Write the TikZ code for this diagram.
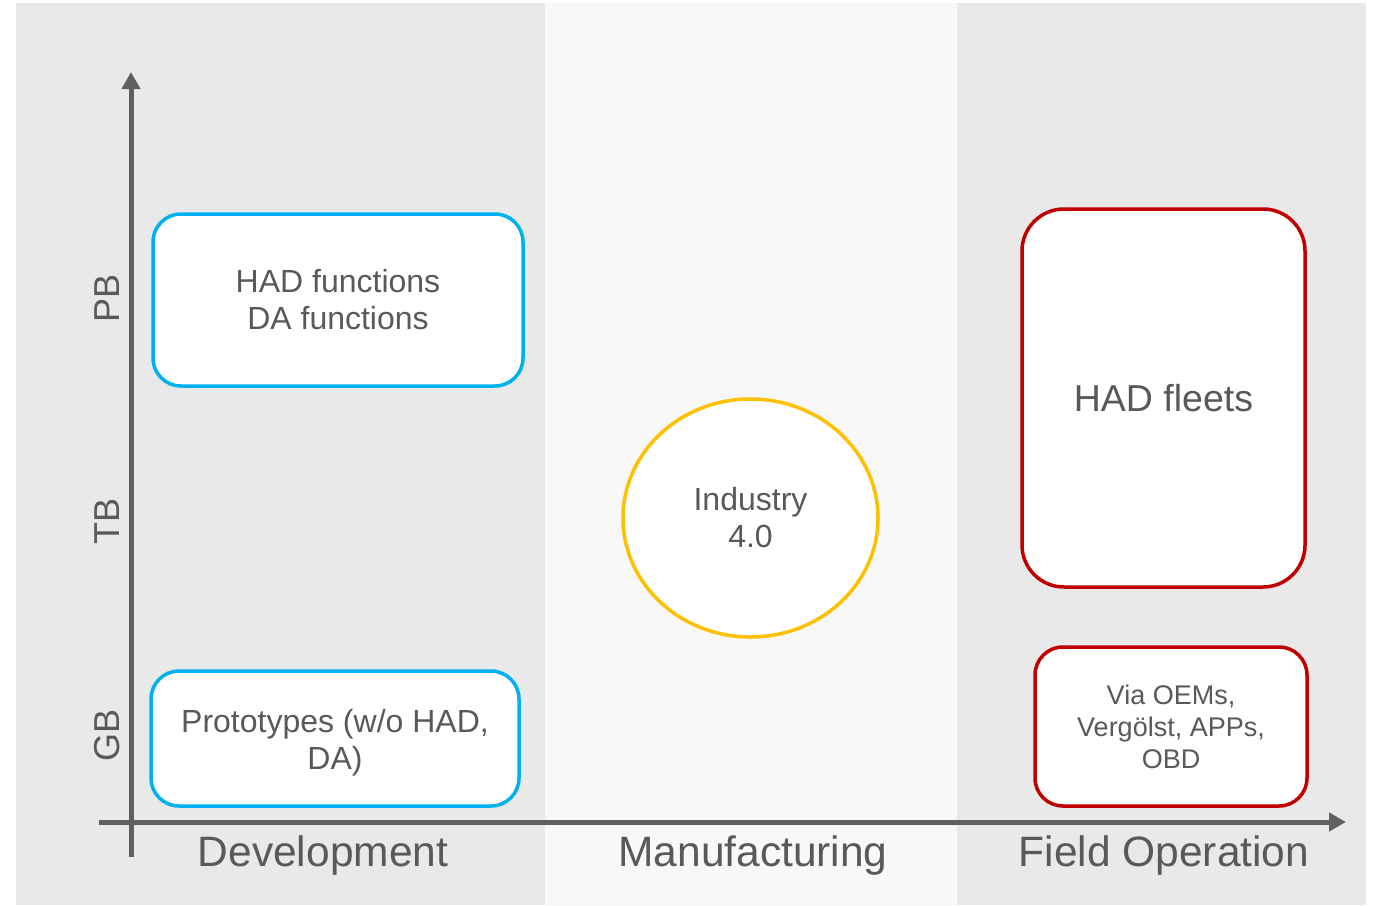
\documentclass[tikz,border=0pt]{standalone}
\usepackage{fontspec}
\setmainfont{Liberation Sans}
\usetikzlibrary{arrows.meta,shapes.geometric}
\definecolor{panelA}{HTML}{E9E9E9}
\definecolor{panelB}{HTML}{F8F8F8}
\definecolor{txt}{HTML}{595959}
\definecolor{axisc}{HTML}{606060}
\definecolor{blueb}{HTML}{00B0F0}
\definecolor{redb}{HTML}{C00000}
\definecolor{yellowb}{HTML}{FFC000}
\tikzset{
  box/.style={draw, line width=3.5pt, rounded corners=28pt, fill=white, align=center, text=txt, inner sep=0pt},
  bluebox/.style={box, draw=blueb},
  redbox/.style={box, draw=redb},
  axisline/.style={draw=axisc, line width=5pt, -{Triangle[width=18pt,length=17pt]}},
  lbl/.style={text=txt, align=center, inner sep=0pt},
}
\begin{document}
\begin{tikzpicture}[x=1pt,y=-1pt]
\useasboundingbox (0,0) rectangle (1375,905);
\fill[white] (0,0) rectangle (1375,905);
\fill[panelA] (16,3) rectangle (545,905);
\fill[panelB] (545,3) rectangle (957,905);
\fill[panelA] (957,3) rectangle (1366,905);

% axes
\coordinate (ybot) at (131,857);
\coordinate (ytop) at (131,72);
\coordinate (xleft) at (99,822);
\coordinate (xright) at (1346,822);
\draw[axisline] (ybot) -- (ytop);
\draw[axisline] (xleft) -- (xright);

% boxes
\node[bluebox, minimum width=370pt, minimum height=172pt, font=\fontsize{32}{37}\selectfont] (had) at (338,300) {HAD functions\\DA functions};
\node[bluebox, minimum width=368pt, minimum height=135pt] (proto) at (335,738.5) {};
\node[lbl, font=\fontsize{32}{37}\selectfont] (prototext) at (335,743) {Prototypes (w/o HAD,\\DA)};
\node[redbox, rounded corners=42pt, minimum width=283pt, minimum height=378pt, font=\fontsize{37.5}{44}\selectfont] (fleet) at (1163.5,398) {HAD fleets};
\node[redbox, minimum width=272pt, minimum height=159pt, font=\fontsize{27}{32}\selectfont] (oem) at (1171,726.5) {Via OEMs,\\Vergölst, APPs,\\OBD};
\node[ellipse, draw=yellowb, line width=3.5pt, fill=white, text=txt, align=center, inner sep=0pt, minimum width=255pt, minimum height=238pt, font=\fontsize{32}{37}\selectfont] (ind) at (750.5,518) {Industry\\4.0};

% axis labels
\node[lbl, font=\fontsize{42.5}{50}\selectfont] (dev) at (323,855) {Development};
\node[lbl, font=\fontsize{42.5}{50}\selectfont] (man) at (753,855) {Manufacturing};
\node[lbl, font=\fontsize{42.5}{50}\selectfont] (fo) at (1164,855) {Field Operation};
\node[lbl, rotate=90, font=\fontsize{36}{42}\selectfont] (pb) at (107,298) {PB};
\node[lbl, rotate=90, font=\fontsize{36}{42}\selectfont] (tb) at (107,521) {TB};
\node[lbl, rotate=90, font=\fontsize{36}{42}\selectfont] (gb) at (107,735) {GB};
\end{tikzpicture}
\end{document}
